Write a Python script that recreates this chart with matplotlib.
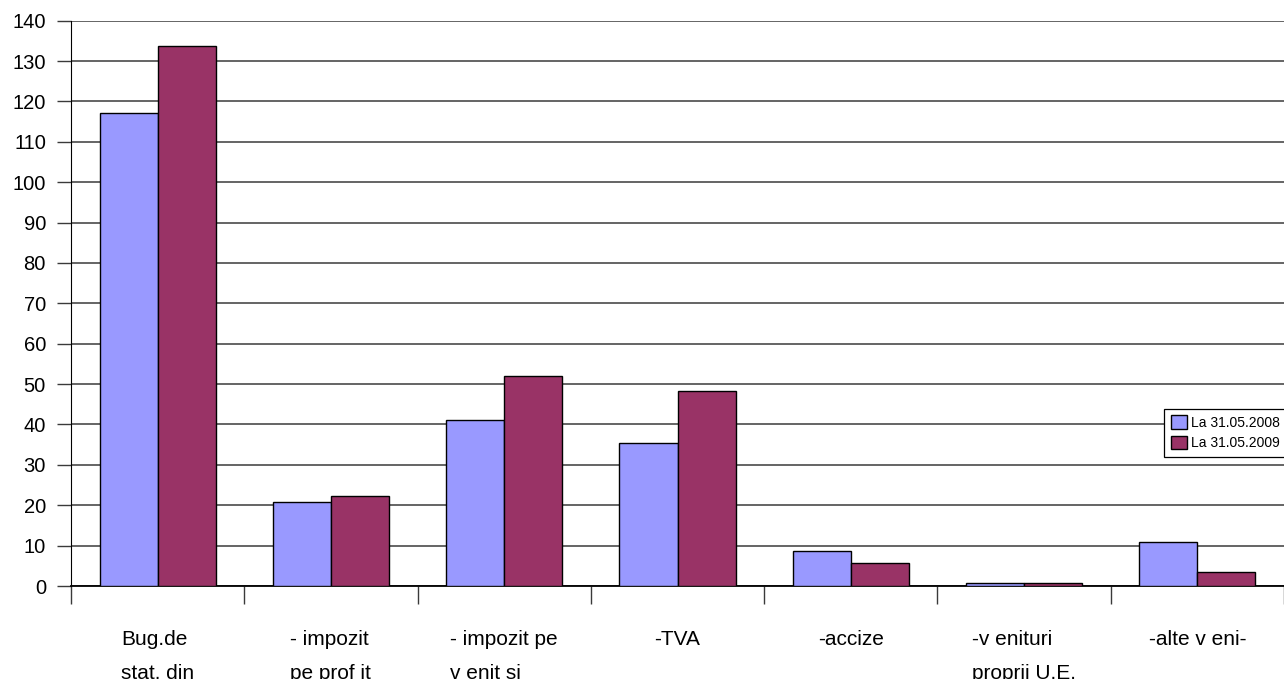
import numpy as np
import matplotlib.pyplot as plt

# date
categorii = ["Bug.de\nstat, din", "- impozit\npe prof it", "- impozit pe\nv enit si", "-TVA",
             "-accize", "-v enituri\nproprii U.E.", "-alte v eni-"]
val_2008 = [117.1, 20.9, 41.2, 35.4, 8.6, 0.7, 10.8]
val_2009 = [133.8, 22.4, 52.1, 48.4, 5.7, 0.7, 3.5]
serii = ["La 31.05.2008", "La 31.05.2009"]

plt.rcParams['font.family'] = ['Liberation Sans', 'DejaVu Sans']

fig = plt.figure(figsize=(12.84, 6.79), dpi=100)
ax = fig.add_axes([71 / 1284, 1 - 586 / 679, 1 - 71 / 1284, (586 - 20.7) / 679])

x = np.arange(len(categorii)) + 0.5
w = 0.335
ax.bar(x - w / 2, val_2008, w, color='#9999FF', edgecolor='black', lw=1, label=serii[0], zorder=3)
ax.bar(x + w / 2, val_2009, w, color='#993366', edgecolor='black', lw=1, label=serii[1], zorder=3)

ax.set_xlim(0, len(categorii))
ax.set_ylim(0, 140)
ax.set_yticks(np.arange(0, 141, 10))
ax.yaxis.grid(True, color='#3a3a3a', lw=1.1, zorder=0)
ax.tick_params(axis='y', length=10, width=1, labelsize=14.5, pad=8, color='#3a3a3a')
ax.set_xticks(np.arange(0, len(categorii) + 1))
ax.set_xticklabels([])
ax.tick_params(axis='x', length=13, width=1, color='#3a3a3a')

for s in ['top', 'right']:
    ax.spines[s].set_visible(False)
ax.spines['left'].set_color('black')
ax.spines['bottom'].set_color('black')
ax.spines['bottom'].set_linewidth(1.3)

trans = ax.get_xaxis_transform()
for xi, lab in zip(x, categorii):
    ax.text(xi, -0.077, lab, transform=trans, ha='center', va='top', multialignment='left',
            fontsize=15, linespacing=2.0, clip_on=False)

leg = fig.legend(loc='upper right', bbox_to_anchor=(1.002, 1 - 409 / 679), fontsize=10,
                 frameon=True, fancybox=False, handlelength=1.15, handleheight=1.1,
                 handletextpad=0.35, borderpad=0.45, labelspacing=0.45, borderaxespad=0)
leg.get_frame().set_edgecolor('black')
leg.get_frame().set_linewidth(0.9)
leg.get_frame().set_alpha(1)

fig.savefig('out.png', dpi=100)
